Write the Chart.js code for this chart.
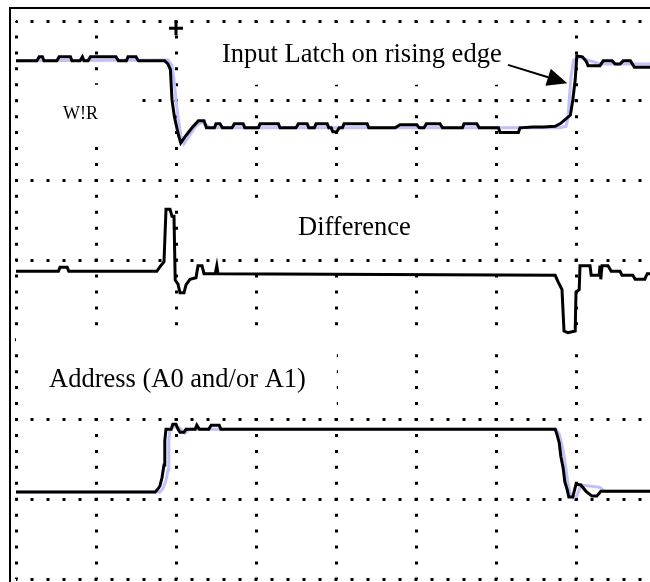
<!DOCTYPE html>
<html>
<head>
<meta charset="utf-8">
<title>W!R, Difference, Address</title>
<script src="https://cdn.jsdelivr.net/npm/chart.js@4.4.1/dist/chart.umd.min.js"></script>
<style>
  html, body { margin: 0; padding: 0; background: #fff; }
  canvas { display: block; }
</style>
</head>
<body>
<canvas id="scope" width="650" height="582"></canvas>
<script>
// both axes are in tenths of a screen division (10 units = 1 div)
const wrTime = [0, 2.6, 2.9, 3.3, 3.5, 5.1, 5.4, 6.8, 7.0, 8.0, 8.3, 8.5, 9.0, 9.3, 12.5, 12.8, 13.8, 14.0, 15.0, 15.3,
  18.6, 19.0, 19.3, 19.5, 19.8, 20.3, 20.6, 21.3, 22.0, 22.8, 23.5, 23.8, 24.8, 25.0, 25.5, 25.8, 27.0, 27.3, 28.4, 28.6,
  30.3, 30.5, 32.8, 33.0, 35.0, 35.3, 36.4, 36.6, 37.3, 37.5, 38.9, 39.1, 39.4, 39.6, 40.1, 40.4, 40.8, 41.0, 43.9, 44.1,
  47.4, 48.0, 50.1, 50.4, 51.0, 51.3, 53.0, 53.3, 55.8, 56.0, 57.6, 57.9, 60.3, 60.5, 62.8, 63.0, 64.6, 65.9, 67.4, 68.0,
  68.6, 69.3, 69.6, 69.9, 70.1, 70.8, 71.3, 71.5, 73.0, 73.4, 74.5, 74.9, 75.5, 75.9, 76.8, 77.3, 79.3];
const wrLevel = [65.0, 65.0, 65.5, 65.5, 65.0, 65.0, 65.5, 65.5, 65.0, 65.0, 65.5, 65.0, 65.0, 65.5, 65.5, 65.0, 65.0, 65.5, 65.5, 65.0,
  65.0, 64.6, 63.9, 60.1, 58.0, 55.7, 54.7, 55.7, 56.6, 57.5, 57.5, 56.6, 56.6, 57.1, 57.1, 56.6, 56.6, 57.1, 57.1, 56.6,
  56.6, 57.1, 57.1, 56.6, 56.6, 57.1, 57.1, 56.6, 56.6, 57.1, 57.1, 56.6, 56.6, 56.1, 56.1, 56.6, 56.6, 57.1, 57.1, 56.6,
  56.6, 57.0, 57.0, 56.6, 56.6, 57.1, 57.1, 56.6, 56.6, 57.1, 57.1, 56.6, 56.6, 56.0, 56.0, 56.6, 56.7, 56.7, 56.8, 57.1,
  57.6, 58.2, 60.1, 62.6, 65.6, 65.5, 64.9, 64.4, 64.4, 65.0, 65.0, 64.6, 64.6, 65.0, 65.0, 64.2, 64.2];

// second acquisition of W!R (persistence trace)
const wrGhostTime = [0, 19.0, 19.5, 19.75, 20.0, 20.25, 20.6, 21.0, 21.6, 22.4, 23.1, 23.75, 24.25,
  68.0, 68.75, 69.0, 69.15, 69.4, 69.7, 70.5, 73.0, 79.3];
const wrGhostLevel = [65.0, 65.1, 64.4, 62.6, 60.1, 58.0, 55.7, 54.6, 55.5, 56.7, 57.3, 57.0, 56.6,
  56.6, 56.8, 57.8, 60.1, 63.2, 65.1, 65.4, 64.6, 64.6];

const diffTime = [0, 5.3, 5.5, 6.4, 6.6, 17.6, 18.1, 18.5, 18.75, 19.25, 19.5, 19.75, 19.9, 20.25, 20.5, 21.0, 21.25,
  21.75, 22.5, 22.75, 23.25, 23.5, 24.9, 25.1, 25.25, 67.4, 67.75, 68.25, 68.5, 69.0, 69.9, 70.0, 70.4, 70.5, 71.75,
  71.9, 72.9, 73.0, 73.1, 73.25, 74.0, 74.4, 75.5, 75.75, 77.1, 77.4, 78.6, 78.9, 79.3];
const diffLevel = [38.6, 38.6, 39.1, 39.1, 38.6, 38.6, 39.3, 39.8, 46.4, 46.4, 45.5, 45.5, 37.5, 37.0, 35.9, 35.9, 36.9,
  37.6, 37.8, 39.3, 39.3, 38.3, 38.3, 39.3, 38.3, 38.1, 37.3, 36.3, 31.1, 30.9, 31.1, 36.0, 36.3, 39.3, 39.3,
  38.1, 38.1, 39.3, 37.6, 39.3, 39.3, 38.6, 38.6, 38.1, 38.1, 37.6, 37.6, 38.3, 38.3];

const addrTime = [0, 17.4, 17.75, 18.0, 18.25, 18.5, 18.6, 18.75, 19.4, 19.6, 20.0, 20.25, 20.5, 21.0, 21.25, 22.4,
  22.6, 22.9, 24.1, 24.4, 25.4, 25.6, 67.4, 67.6, 67.9, 68.1, 68.4, 68.6, 68.9, 69.1, 69.6, 70.0, 70.6, 71.25, 72.0,
  72.6, 73.1, 79.3];
const addrLevel = [10.9, 10.9, 11.3, 11.7, 12.7, 14.3, 17.4, 18.8, 18.8, 19.4, 19.4, 18.8, 18.4, 18.4, 18.8, 18.8,
  19.3, 18.8, 18.8, 19.3, 19.3, 18.8, 18.8, 18.2, 17.1, 15.4, 13.9, 12.2, 11.2, 10.3, 10.3, 11.9, 11.8, 11.0, 10.4,
  10.4, 11.0, 11.0];

const addrGhostTime = [0, 18.0, 18.4, 18.75, 19.0, 19.1, 19.25, 19.7, 20.4, 21.1, 21.75,
  67.5, 67.9, 68.2, 68.5, 68.75, 69.0, 69.25, 69.6, 70.1, 70.6, 73.0, 73.6, 79.3];
const addrGhostLevel = [10.9, 10.9, 11.4, 12.4, 13.7, 17.4, 18.7, 19.1, 19.0, 18.3, 18.8,
  18.8, 18.2, 17.0, 15.5, 13.8, 12.0, 10.8, 10.2, 10.4, 11.8, 11.5, 11.0, 11.0];

// trigger position marker
const trigTime = [20.0];
const trigLevel = [69.1];

// text and the white boxes behind it (axis units)
const notes = [
  { text: 'Input Latch on rising edge', x: 25.75, y: 64.87, size: 26.5 },
  { text: 'W!R', x: 5.875, y: 57.7, size: 18 },
  { text: 'Difference', x: 35.25, y: 43.16, size: 26.5 },
  { text: 'Address (A0 and/or A1)', x: 4.125, y: 24.09, size: 26.5 }
];
const blanks = [
  { x0: 23.6, x1: 62.4, y0: 62.0, y1: 69.0 },
  { x0: 0.75, x1: 15.5, y0: 55.1, y1: 62.0 },
  { x0: 29.25, x1: 50.75, y0: 41.3, y1: 47.05 },
  { x0: 0.5, x1: 40.1, y0: 20.95, y1: 30.9 },
  { x0: 0, x1: 79.25, y0: 29.2, y1: 30.5 }
];
const arrow = { from: [61.5, 64.5], to: [68.9, 62.2] };

const pts = (xs, ys) => xs.map((v, i) => ({ x: v, y: ys[i] }));
const BLACK = '#000';
const GHOST = 'rgb(192,192,252)';
const SERIF = '"Liberation Serif", "Times New Roman", serif';

function trace(data, color, order) {
  return {
    data, borderColor: color, borderWidth: 3, pointRadius: 0,
    fill: false, tension: 0, order
  };
}

const scopeNotes = {
  id: 'scopeNotes',
  beforeDatasetsDraw(chart) {
    const { ctx, scales: { x, y } } = chart;
    ctx.save();
    ctx.fillStyle = '#fff';
    blanks.forEach(b => {
      const l = x.getPixelForValue(b.x0), r = x.getPixelForValue(b.x1);
      const t = y.getPixelForValue(b.y1), btm = y.getPixelForValue(b.y0);
      ctx.fillRect(l, t, r - l, btm - t);
    });
    ctx.fillStyle = BLACK;
    ctx.textBaseline = 'alphabetic';
    notes.forEach(n => {
      ctx.font = n.size + 'px ' + SERIF;
      ctx.fillText(n.text, x.getPixelForValue(n.x), y.getPixelForValue(n.y));
    });
    ctx.restore();
  },
  afterDatasetsDraw(chart) {
    const { ctx, scales: { x, y } } = chart;
    const x0 = x.getPixelForValue(arrow.from[0]), y0 = y.getPixelForValue(arrow.from[1]);
    const x1 = x.getPixelForValue(arrow.to[0]), y1 = y.getPixelForValue(arrow.to[1]);
    const len = Math.hypot(x1 - x0, y1 - y0);
    const ux = (x1 - x0) / len, uy = (y1 - y0) / len;
    const head = 20, half = 9;
    const bx = x1 - ux * head, by = y1 - uy * head;
    ctx.save();
    ctx.strokeStyle = BLACK;
    ctx.fillStyle = BLACK;
    ctx.lineWidth = 2;
    ctx.beginPath();
    ctx.moveTo(x0, y0);
    ctx.lineTo(bx, by);
    ctx.stroke();
    ctx.beginPath();
    ctx.moveTo(x1, y1);
    ctx.lineTo(bx - uy * half, by + ux * half);
    ctx.lineTo(bx + uy * half, by - ux * half);
    ctx.closePath();
    ctx.fill();
    ctx.restore();
  },
  afterDraw(chart) {
    // outer frame, left and top edges only
    const { ctx, chartArea, width, height } = chart;
    const left = chartArea.left - 7, top = chartArea.top - 14;
    ctx.save();
    ctx.fillStyle = BLACK;
    ctx.fillRect(left, top, 2, height - top);
    ctx.fillRect(left, top, width - left, 2);
    ctx.restore();
  }
};

new Chart(document.getElementById('scope'), {
  type: 'line',
  data: {
    datasets: [
      trace(pts(wrTime, wrLevel), BLACK, 1),
      trace(pts(diffTime, diffLevel), BLACK, 1),
      trace(pts(addrTime, addrLevel), BLACK, 1),
      trace(pts(wrGhostTime, wrGhostLevel), GHOST, 2),
      trace(pts(addrGhostTime, addrGhostLevel), GHOST, 2),
      {
        data: pts(trigTime, trigLevel), showLine: false, order: 0, clip: false,
        pointStyle: 'cross', pointRadius: 7, pointBorderWidth: 3,
        borderColor: BLACK, pointBorderColor: BLACK
      }
    ]
  },
  options: {
    responsive: false,
    animation: false,
    devicePixelRatio: 1,
    events: [],
    layout: { autoPadding: false, padding: { left: 16, top: 21, right: 0, bottom: 3 } },
    plugins: { legend: { display: false }, tooltip: { enabled: false } },
    scales: {
      x: {
        type: 'linear', min: 0, max: 79.25,
        ticks: { display: false, stepSize: 10, includeBounds: false },
        grid: { color: BLACK, lineWidth: 3, drawTicks: false },
        border: { display: false, dash: [3, 12.94], dashOffset: 1.5 }
      },
      y: {
        type: 'linear', min: 0, max: 70,
        ticks: { display: false, stepSize: 10 },
        grid: { color: BLACK, lineWidth: 3, drawTicks: false },
        border: { display: false, dash: [3, 13], dashOffset: 1.5 }
      }
    }
  },
  plugins: [scopeNotes]
});
</script>
</body>
</html>
